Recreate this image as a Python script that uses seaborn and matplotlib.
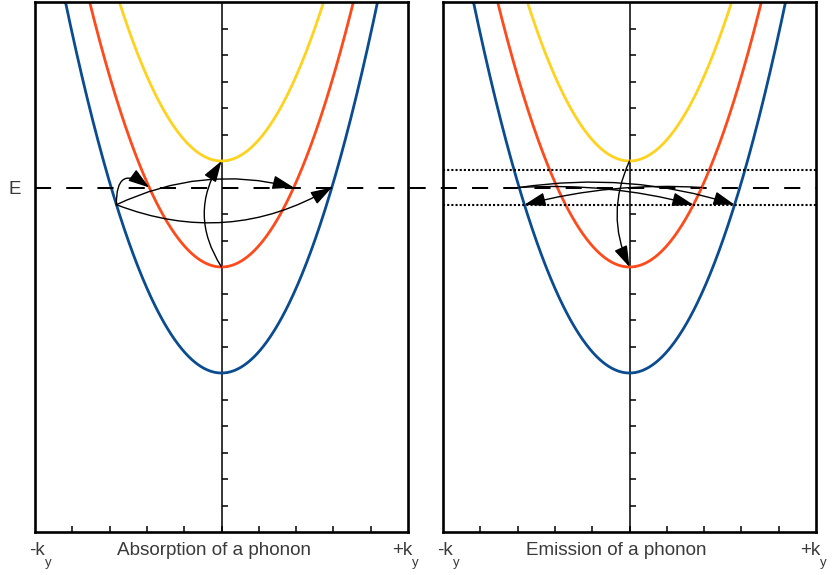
import numpy as np
import pandas as pd
import matplotlib
matplotlib.use("Agg")
import matplotlib.pyplot as plt
import seaborn as sns

# Parabolic bands E(k) = E_min + a*k^2 (arbitrary units)
band_names = ["band 1", "band 2", "band 3"]
band_minima = [6.0, 10.0, 14.0]
band_colors = ["#0b4c90", "#ff4a1c", "#ffd21e"]
curvature = 0.8

fermi_E = 13.0          # energy level E (dashed line)
phonon_dE = 0.65        # phonon energy
k_limit = 5.0
E_limit = 20.0
k_ticks = [-4, -3, -2, -1, 0, 1, 2, 3, 4]
E_ticks = list(range(1, 20))
panel_titles = ["Absorption of a phonon", "Emission of a phonon"]

# transitions: (from band, side, energy) -> (to band, side, energy), arc curvature
absorption_moves = [
    ((0, -1, fermi_E - phonon_dE), (1, -1, fermi_E), -1.0),
    ((0, -1, fermi_E - phonon_dE), (1, +1, fermi_E), -0.18),
    ((0, -1, fermi_E - phonon_dE), (0, +1, fermi_E), 0.24),
    ((1, 0, band_minima[1]), (2, 0, band_minima[2]), -0.32),
]
emission_moves = [
    ((0, -1, fermi_E), (0, +1, fermi_E - phonon_dE), -0.116),
    ((0, -1, fermi_E), (1, +1, fermi_E - phonon_dE), -0.08),
    ((1, +1, fermi_E), (0, -1, fermi_E - phonon_dE), 0.08),
    ((2, 0, band_minima[2]), (1, 0, band_minima[1]), 0.23),
]


def k_on_band(band, side, energy):
    return side * np.sqrt(max(energy - band_minima[band], 0.0) / curvature)


k = np.linspace(-k_limit, k_limit, 601)
bands = pd.concat(
    [pd.DataFrame({"k": k, "E": emin + curvature * k ** 2, "band": name})
     for name, emin in zip(band_names, band_minima)],
    ignore_index=True,
)

sns.set_style("white")
plt.rcParams["font.family"] = ["Liberation Sans", "DejaVu Sans"]
text_color = "#3a3a3a"

W, H = 832, 575
fig = plt.figure(figsize=(W / 100, H / 100), dpi=100)
ax_l = fig.add_axes([35 / W, 1 - 532 / H, 373 / W, 530 / H])
ax_r = fig.add_axes([443 / W, 1 - 532 / H, 373 / W, 530 / H])

for ax, moves in zip([ax_l, ax_r], [absorption_moves, emission_moves]):
    ax.set_facecolor("none")
    sns.lineplot(data=bands, x="k", y="E", hue="band", palette=band_colors,
                 hue_order=band_names, lw=2.0, legend=False, ax=ax,
                 sort=False, zorder=2)
    ax.set_xlim(-k_limit, k_limit)
    ax.set_ylim(0, E_limit)
    ax.set_xlabel("")
    ax.set_ylabel("")
    for sp in ax.spines.values():
        sp.set_visible(True)
        sp.set_linewidth(1.9)
        sp.set_color("black")
    ax.set_xticks(k_ticks)
    ax.set_xticklabels([])
    ax.tick_params(axis="x", direction="in", length=4, width=1.1,
                   color="black", bottom=True, top=False)
    ax.set_yticks([])
    # central energy axis with tick marks to its right
    ax.axvline(0, color="black", lw=1.1, zorder=1)
    ax.plot(np.zeros(len(E_ticks)), E_ticks, ls="none", marker=1,
            markersize=4, mew=1.1, color="black", zorder=1)
    for (b0, s0, e0), (b1, s1, e1), rad in moves:
        start = (k_on_band(b0, s0, e0), e0)
        end = (k_on_band(b1, s1, e1), e1)
        ax.annotate("", xy=end, xytext=start,
                    arrowprops=dict(arrowstyle="-|>,head_length=1.3,head_width=0.42",
                                    connectionstyle=f"arc3,rad={rad}",
                                    color="black", lw=1.0,
                                    shrinkA=0, shrinkB=0, mutation_scale=10),
                    zorder=4)

# phonon energy window around E in the emission panel
for e in (fermi_E + phonon_dE, fermi_E - phonon_dE):
    ax_r.axhline(e, color="black", lw=1.5, ls=(0, (1, 1)), zorder=3)

# dashed energy level E running across both panels
pl, pr = ax_l.get_position(), ax_r.get_position()
k_right = -k_limit + (pr.x1 - pl.x0) / pl.width * 2 * k_limit
ax_l.plot([-k_limit, k_right], [fermi_E, fermi_E], color="black", lw=1.45,
          ls=(0, (8, 7.5)), clip_on=False, zorder=5)

# E label on the left axis
ax_l.set_yticks([fermi_E])
ax_l.set_yticklabels(["E"], fontsize=13.5, color=text_color)
ax_l.tick_params(axis="y", length=0, pad=10)


def ftext(x, y, s, size=13.6, ha="left"):
    fig.text(x / W, 1 - y / H, s, fontsize=size, color=text_color,
             ha=ha, va="baseline")


for x0, title in zip([35, 443], panel_titles):
    ftext(x0 - 6, 555, "-k")
    ftext(x0 + 10, 566, "y", size=9.5)
    ftext(x0 + 357, 555, "+k")
    ftext(x0 + 377, 566, "y", size=9.5)
ftext(214, 555, panel_titles[0], ha="center")
ftext(616, 555, panel_titles[1], ha="center")

fig.savefig("out.png", dpi=100)
